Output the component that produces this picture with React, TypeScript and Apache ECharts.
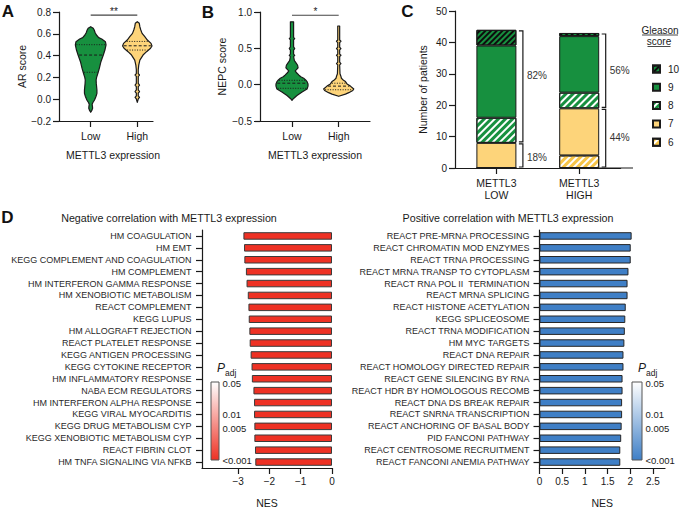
import React, { useEffect, useRef } from 'react';
import * as echarts from 'echarts';

const FONT = '"Liberation Sans", Arial, Helvetica, sans-serif';
const INK = '#1a1a1a';
const GREEN = '#17903f';
const YELLOW = '#fdd47a';
const YELLOW_STRIPE = '#f7c548';
const RED = '#ee3124';
const BLUE = '#3f7fc6';

// ---------- Panel A: AR score violins ----------
const violinGroups = ['Low', 'High'];
const arLowProfile: number[][] = [
  [0.665, 0], [0.65, 0.16], [0.635, 0.22], [0.61, 0.28], [0.589, 0.36], [0.565, 0.5],
  [0.552, 0.69], [0.528, 0.92], [0.498, 0.96], [0.451, 0.89], [0.405, 0.79], [0.344, 0.64],
  [0.283, 0.54], [0.238, 0.45], [0.2, 0.37], [0.176, 0.34], [0.145, 0.35], [0.115, 0.37],
  [0.085, 0.39], [0.054, 0.39], [0.025, 0.33], [-0.007, 0.24], [-0.03, 0.14], [-0.047, 0.09],
  [-0.065, 0.11], [-0.083, 0.12], [-0.1, 0.08], [-0.12, 0],
];
const arHighProfile: number[][] = [
  [0.711, 0], [0.696, 0.125], [0.665, 0.16], [0.635, 0.22], [0.604, 0.3], [0.573, 0.47],
  [0.543, 0.63], [0.512, 0.86], [0.488, 0.92], [0.467, 0.83], [0.436, 0.58], [0.405, 0.36],
  [0.359, 0.16], [0.313, 0.09], [0.27, 0.06], [0.235, 0.06], [0.222, 0.14], [0.209, 0.06],
  [0.145, 0.06], [0.13, 0.14], [0.115, 0.06], [0.085, 0.06], [0.07, 0.14], [0.055, 0.06],
  [0.03, 0.06], [0.016, 0.14], [0.002, 0.06], [-0.029, 0],
];
const arLowQuartiles = [0.5, 0.405, 0.247];
const arHighQuartiles = [0.53, 0.49, 0.451];
const arSignificance = [1, 2, 0.772];
const arSignificanceLabel = '**';

// ---------- Panel B: NEPC score violins ----------
const nepcLowProfile: number[][] = [
  [0.865, 0.1], [0.78, 0.1], [0.7, 0.1], [0.65, 0.1], [0.634, 0.17], [0.618, 0.1],
  [0.52, 0.1], [0.496, 0.17], [0.475, 0.1], [0.42, 0.1], [0.404, 0.17], [0.385, 0.1],
  [0.33, 0.15], [0.3, 0.25], [0.267, 0.35], [0.23, 0.38], [0.2, 0.25], [0.189, 0.2],
  [0.16, 0.3], [0.134, 0.42], [0.11, 0.55], [0.088, 0.73], [0.065, 0.85], [0.042, 0.94],
  [0.01, 1.0], [-0.02, 1.0], [-0.06, 0.94], [-0.1, 0.63], [-0.15, 0.31], [-0.19, 0.1], [-0.215, 0],
];
const nepcHighProfile: number[][] = [
  [0.807, 0.06], [0.7, 0.06], [0.615, 0.06], [0.597, 0.14], [0.58, 0.06], [0.515, 0.06],
  [0.496, 0.14], [0.478, 0.06], [0.42, 0.06], [0.404, 0.14], [0.388, 0.06], [0.31, 0.06],
  [0.29, 0.14], [0.272, 0.06], [0.15, 0.08], [0.12, 0.13], [0.088, 0.17], [0.06, 0.3],
  [0.042, 0.42], [0.01, 0.52], [-0.02, 0.73], [-0.06, 0.94], [-0.08, 0.88], [-0.11, 0.63],
  [-0.13, 0.42], [-0.16, 0],
];
const nepcLowQuartiles = [0.06, 0.02, -0.05];
const nepcHighQuartiles = [0.02, -0.02, -0.07];
const nepcSignificance = [1, 2, 0.955];
const nepcSignificanceLabel = '*';

// ---------- Panel C: Gleason score stacked bars ----------
const gleasonGroups = ['METTL3\nLOW', 'METTL3\nHIGH'];
const gleasonGrades = ['6', '7', '8', '9', '10'];
const gleason6 = [0, 4];
const gleason7 = [8, 15];
const gleason8 = [8, 5];
const gleason9 = [23, 18];
const gleason10 = [5, 1];
const bracketGroup = [0, 0, 1, 1];
const bracketFrom = [8, 0, 19, 0];
const bracketTo = [44, 8, 43, 19];
const bracketLabel = ['82%', '18%', '56%', '44%'];
const bracketLabelAt = [29.5, 3.5, 31, 9.8];

// ---------- Panel D: GSEA NES ----------
const negPathways = [
  'HM COAGULATION', 'HM EMT', 'KEGG COMPLEMENT AND COAGULATION', 'HM COMPLEMENT',
  'HM INTERFERON GAMMA RESPONSE', 'HM XENOBIOTIC METABOLISM', 'REACT COMPLEMENT', 'KEGG LUPUS',
  'HM ALLOGRAFT REJECTION', 'REACT PLATELET RESPONSE', 'KEGG ANTIGEN PROCESSING',
  'KEGG CYTOKINE RECEPTOR', 'HM INFLAMMATORY RESPONSE', 'NABA ECM REGULATORS',
  'HM INTERFERON ALPHA RESPONSE', 'KEGG VIRAL MYOCARDITIS', 'KEGG DRUG METABOLISM CYP',
  'KEGG XENOBIOTIC METABOLISM CYP', 'REACT FIBRIN CLOT', 'HM TNFA SIGNALING VIA NFKB',
];
const negNES = [
  -2.83, -2.81, -2.8, -2.75, -2.73, -2.69, -2.67, -2.66, -2.64, -2.63,
  -2.6, -2.57, -2.56, -2.51, -2.49, -2.49, -2.48, -2.48, -2.46, -2.45,
];
const posPathways = [
  'REACT PRE-MRNA PROCESSING', 'REACT CHROMATIN MOD ENZYMES', 'REACT TRNA PROCESSING',
  'REACT MRNA TRANSP TO CYTOPLASM', 'REACT RNA POL II  TERMINATION', 'REACT MRNA SPLICING',
  'REACT HISTONE ACETYLATION', 'KEGG SPLICEOSOME', 'REACT TRNA MODIFICATION', 'HM MYC TARGETS',
  'REACT DNA REPAIR', 'REACT HOMOLOGY DIRECTED REPAIR', 'REACT GENE SILENCING BY RNA',
  'REACT HDR BY HOMOLOGOUS RECOMB', 'REACT DNA DS BREAK REPAIR', 'REACT SNRNA TRANSCRIPTION',
  'REACT ANCHORING OF BASAL BODY', 'PID FANCONI PATHWAY', 'REACT CENTROSOME RECRUITMENT',
  'REACT FANCONI ANEMIA PATHWAY',
];
const posNES = [
  2.03, 2.01, 2.01, 1.96, 1.94, 1.94, 1.9, 1.89, 1.88, 1.87,
  1.85, 1.85, 1.83, 1.83, 1.82, 1.82, 1.81, 1.8, 1.78, 1.78,
];
const padjTickValues = [0.05, 0.01, 0.005, 0.001];
const padjTickLabels = ['0.05', '0.01', '0.005', '<0.001'];
const negTicks = [-3, -2, -1, 0];
const posTicks = [0, 0.5, 1, 1.5, 2, 2.5];

// ---------- helpers ----------
const VIOLIN_HALF = 0.343; // max half width in x-axis units
const minus = (s: string) => s.replace('-', '\u2212');
const lineStyle = { color: INK, width: 1.2 };
const tickText = (size = 10) => ({ fontFamily: FONT, fontSize: size, color: INK });

function interpWidth(profile: number[][], v: number) {
  for (let k = 0; k < profile.length - 1; k++) {
    const [v0, w0] = profile[k];
    const [v1, w1] = profile[k + 1];
    if (v <= v0 && v >= v1) {
      const t = v0 === v1 ? 0 : (v0 - v) / (v0 - v1);
      return w0 + (w1 - w0) * t;
    }
  }
  return 0;
}

function violinSeries(axisIndex: number, profiles: number[][][], quartiles: number[][], fills: string[]) {
  return {
    type: 'custom',
    xAxisIndex: axisIndex,
    yAxisIndex: axisIndex,
    silent: true,
    data: violinGroups.map((_, i) => [i + 1, 0]),
    renderItem: (params: any, api: any) => {
      const i = params.dataIndex;
      const x = api.value(0);
      const prof = profiles[i];
      const right = prof.map(([v, w]) => api.coord([x + w * VIOLIN_HALF, v]));
      const left = prof.slice().reverse().map(([v, w]) => api.coord([x - w * VIOLIN_HALF, v]));
      const children: any[] = [
        {
          type: 'polygon',
          shape: { points: right.concat(left) },
          style: { fill: fills[i], stroke: INK, lineWidth: 1.2, lineJoin: 'round' },
        },
      ];
      quartiles[i].forEach((q, k) => {
        const w = interpWidth(prof, q);
        const p1 = api.coord([x - w * VIOLIN_HALF, q]);
        const p2 = api.coord([x + w * VIOLIN_HALF, q]);
        children.push({
          type: 'line',
          shape: { x1: p1[0] + 1, y1: p1[1], x2: p2[0] - 1, y2: p2[1] },
          style: { stroke: INK, lineWidth: 1, lineDash: k === 1 ? [3, 2] : [1, 1.5] },
        });
      });
      return { type: 'group', children };
    },
  };
}

function significanceSeries(axisIndex: number, sig: number[], label: string) {
  return {
    type: 'custom',
    xAxisIndex: axisIndex,
    yAxisIndex: axisIndex,
    silent: true,
    data: [sig],
    renderItem: (_params: any, api: any) => {
      const a = api.coord([api.value(0), api.value(2)]);
      const b = api.coord([api.value(1), api.value(2)]);
      return {
        type: 'group',
        children: [
          { type: 'line', shape: { x1: a[0], y1: a[1], x2: b[0], y2: b[1] }, style: { stroke: '#444', lineWidth: 1.2 } },
          {
            type: 'text',
            style: {
              text: label, x: (a[0] + b[0]) / 2, y: a[1] + 1, align: 'center', verticalAlign: 'bottom',
              fontFamily: FONT, fontSize: 10, fill: INK,
            },
          },
        ],
      };
    },
  };
}

function stripes(color: string, dash: number[]) {
  return {
    symbol: 'rect',
    symbolSize: 1,
    dashArrayX: [1, 0],
    dashArrayY: dash,
    rotation: -Math.PI / 4,
    color,
  };
}

function gleasonSeries(name: string, values: number[], fill: string, decal?: any) {
  return {
    type: 'bar',
    name,
    xAxisIndex: 2,
    yAxisIndex: 2,
    stack: 'gleason',
    barWidth: 40,
    data: values,
    itemStyle: { color: fill, borderColor: INK, borderWidth: 1, decal: decal || 'none' },
    emphasis: { disabled: true },
  };
}

function buildOption() {
  const grids = [
    { left: 59, top: 12, width: 94, height: 109 },
    { left: 260, top: 12, width: 110, height: 109 },
    { left: 455, top: 11, width: 165.6, height: 157 },
    { left: 202, top: 230, width: 130, height: 238 },
    { left: 539.5, top: 230, width: 125.5, height: 238 },
  ].map((g) => ({ ...g, containLabel: false, outerBoundsMode: 'none' }));

  const catValueX = (gridIndex: number, min: number, max: number, labels: string[]) => ({
    type: 'value',
    gridIndex,
    min,
    max,
    axisLine: { show: true, onZero: false, lineStyle },
    axisTick: { show: true, length: 6, lineStyle, customValues: labels.map((_, i) => i + 1) },
    axisLabel: {
      ...tickText(10.5),
      margin: 9,
      customValues: labels.map((_, i) => i + 1),
      formatter: (v: number) => labels[Math.round(v) - 1] || '',
    },
    splitLine: { show: false },
  });

  const xAxis = [
    catValueX(0, 0.32, 2.337, violinGroups),
    catValueX(1, 0.315, 2.67, violinGroups),
    {
      type: 'category', gridIndex: 2, data: gleasonGroups,
      axisLine: { show: true, onZero: false, lineStyle },
      axisTick: { show: true, length: 6, alignWithLabel: true, lineStyle },
      axisLabel: { ...tickText(10.5), margin: 9, lineHeight: 12, interval: 0 },
      splitLine: { show: false },
    },
    {
      type: 'value', gridIndex: 3, min: -4.153, max: 0,
      axisLine: { show: true, onZero: false, lineStyle },
      axisTick: { show: true, length: 6, lineStyle, customValues: negTicks },
      axisLabel: { ...tickText(10), margin: 8, customValues: negTicks, formatter: (v: number) => minus(String(v)) },
      splitLine: { show: false },
      name: 'NES', nameLocation: 'middle', nameGap: 29,
      nameTextStyle: { fontFamily: FONT, fontSize: 10.5, color: INK },
    },
    {
      type: 'value', gridIndex: 4, min: 0, max: 2.765,
      axisLine: { show: true, onZero: false, lineStyle },
      axisTick: { show: true, length: 6, lineStyle, customValues: posTicks },
      axisLabel: { ...tickText(10), margin: 8, customValues: posTicks, formatter: (v: number) => String(v) },
      splitLine: { show: false },
      name: 'NES', nameLocation: 'middle', nameGap: 29,
      nameTextStyle: { fontFamily: FONT, fontSize: 10.5, color: INK },
    },
  ];

  const valueY = (gridIndex: number, min: number, max: number, interval: number, name: string, nameGap: number, fmt: (v: number) => string) => ({
    type: 'value',
    gridIndex,
    min,
    max,
    interval,
    axisLine: { show: true, onZero: false, lineStyle },
    axisTick: { show: true, length: 6, lineStyle },
    axisLabel: { ...tickText(10), margin: 8, formatter: fmt },
    splitLine: { show: false },
    name,
    nameLocation: 'middle',
    nameGap,
    nameTextStyle: { fontFamily: FONT, fontSize: 10.5, color: INK },
  });

  const catY = (gridIndex: number, data: string[], margin: number) => ({
    type: 'category',
    gridIndex,
    inverse: true,
    data,
    axisLine: { show: true, onZero: false, lineStyle },
    axisTick: { show: true, length: 6, alignWithLabel: true, interval: 0, lineStyle },
    axisLabel: { fontFamily: FONT, fontSize: 9, color: '#2a2a2a', margin, interval: 0 },
    splitLine: { show: false },
  });

  const yAxis = [
    valueY(0, -0.2, 0.8, 0.2, 'AR score', 31, (v) => minus(v.toFixed(1))),
    valueY(1, -0.5, 1.0, 0.5, 'NEPC score', 33, (v) => minus(v.toFixed(1))),
    valueY(2, 0, 50, 10, 'Number of patients', 27, (v) => String(v)),
    catY(3, negPathways, 10.5),
    catY(4, posPathways, 10),
  ];

  const gleasonFills = [
    gleasonSeries(gleasonGrades[0], gleason6, '#ffffff', stripes(YELLOW_STRIPE, [2.2, 2])),
    gleasonSeries(gleasonGrades[1], gleason7, YELLOW),
    gleasonSeries(gleasonGrades[2], gleason8, '#ffffff', stripes(GREEN, [2.4, 1.8])),
    gleasonSeries(gleasonGrades[3], gleason9, GREEN),
    gleasonSeries(gleasonGrades[4], gleason10, GREEN, stripes('#0d0d0d', [1.8, 1.8])),
  ];

  const bracketSeries = {
    type: 'custom',
    xAxisIndex: 2,
    yAxisIndex: 2,
    silent: true,
    data: bracketGroup.map((g, k) => [g, bracketFrom[k], bracketTo[k], bracketLabelAt[k]]),
    renderItem: (params: any, api: any) => {
      const x = api.value(0);
      const bottom = api.coord([x, api.value(1)]);
      const top = api.coord([x, api.value(2)]);
      const mid = api.coord([x, api.value(3)]);
      const bx = bottom[0] + 26.5;
      const y0 = bottom[1] - 1;
      const y1 = top[1] + 1;
      return {
        type: 'group',
        children: [
          {
            type: 'polyline',
            shape: { points: [[bx - 4, y1], [bx, y1], [bx, y0], [bx - 4, y0]] },
            style: { stroke: INK, lineWidth: 1.2, fill: 'none' },
          },
          {
            type: 'text',
            style: {
              text: bracketLabel[params.dataIndex], x: bx + 4, y: mid[1], align: 'left', verticalAlign: 'middle',
              fontFamily: FONT, fontSize: 10, fill: '#333',
            },
          },
        ],
      };
    },
  };

  const barCommon = { barWidth: 7.5, emphasis: { disabled: true }, silent: true };
  const negBars = {
    type: 'bar', name: 'Negative NES', xAxisIndex: 3, yAxisIndex: 3, data: negNES, ...barCommon,
    itemStyle: { color: RED, borderColor: '#3a3a3a', borderWidth: 1 },
  };
  const posBars = {
    type: 'bar', name: 'Positive NES', xAxisIndex: 4, yAxisIndex: 4, data: posNES, ...barCommon,
    itemStyle: { color: BLUE, borderColor: '#262626', borderWidth: 1 },
  };

  // colour bars (log-scaled Padj)
  const logSpan = Math.log10(padjTickValues[0]) - Math.log10(padjTickValues[padjTickValues.length - 1]);
  const colourBar = (x: number, w: number, color: string) => {
    const top = 382;
    const h = 78;
    const items: any[] = [
      {
        type: 'rect',
        shape: { x, y: top, width: w, height: h },
        style: {
          fill: { type: 'linear', x: 0, y: 0, x2: 0, y2: 1, colorStops: [{ offset: 0, color: '#ffffff' }, { offset: 1, color }] },
          stroke: '#555', lineWidth: 1,
        },
      },
      { type: 'text', style: { text: 'P', x: x + 6, y: 368, align: 'left', verticalAlign: 'middle', fontFamily: FONT, fontSize: 12, fontStyle: 'italic', fill: INK } },
      { type: 'text', style: { text: 'adj', x: x + 14, y: 372.5, align: 'left', verticalAlign: 'middle', fontFamily: FONT, fontSize: 8.5, fill: INK } },
    ];
    padjTickValues.forEach((v, k) => {
      const f = (Math.log10(padjTickValues[0]) - Math.log10(v)) / logSpan;
      items.push({
        type: 'text',
        style: {
          text: padjTickLabels[k], x: x + w + 3.5, y: top + 1 + f * (h - 1), align: 'left', verticalAlign: 'middle',
          fontFamily: FONT, fontSize: 9.5, fill: INK,
        },
      });
    });
    return items;
  };

  const letter = (t: string, x: number, y: number) => ({
    type: 'text',
    style: { text: t, x, y, align: 'center', verticalAlign: 'middle', fontFamily: FONT, fontSize: 17, fontWeight: 'bold', fill: '#111' },
  });
  const title = (t: string, x: number, y: number, size = 10.5) => ({
    type: 'text',
    style: { text: t, x, y, align: 'center', verticalAlign: 'middle', fontFamily: FONT, fontSize: size, fill: INK },
  });

  const graphic = [
    letter('A', 8, 11.5),
    letter('B', 208, 12.5),
    letter('C', 407.5, 11.5),
    letter('D', 7.5, 217),
    title('METTL3 expression', 113, 155),
    title('METTL3 expression', 315, 155),
    // axis line of panel C continues past the last category band
    { type: 'line', shape: { x1: 595, y1: 168, x2: 633, y2: 168 }, style: { stroke: INK, lineWidth: 1.2 } },
    title('Gleason', 660, 30, 10),
    title('score', 659, 41.5, 10),
    { type: 'line', shape: { x1: 642, y1: 35, x2: 678, y2: 35 }, style: { stroke: INK, lineWidth: 0.8 } },
    { type: 'line', shape: { x1: 647.5, y1: 46.5, x2: 670.5, y2: 46.5 }, style: { stroke: INK, lineWidth: 0.8 } },
    title('Negative correlation with METTL3 expression', 169, 218, 10.7),
    title('Positive correlation with METTL3 expression', 508, 218, 10.7),
    ...colourBar(211, 8, RED),
    ...colourBar(632, 10, BLUE),
  ];

  return {
    animation: false,
    backgroundColor: '#ffffff',
    textStyle: { fontFamily: FONT },
    grid: grids,
    xAxis,
    yAxis,
    legend: {
      data: ['10', '9', '8', '7', '6'],
      orient: 'vertical',
      left: 647,
      top: 58,
      itemWidth: 7,
      itemHeight: 7,
      itemGap: 6.3,
      icon: 'rect',
      selectedMode: false,
      textStyle: { fontFamily: FONT, fontSize: 10, color: INK, lineHeight: 12, padding: [0, 0, 0, 3] },
    },
    graphic,
    series: [
      violinSeries(0, [arLowProfile, arHighProfile], [arLowQuartiles, arHighQuartiles], [GREEN, YELLOW]),
      significanceSeries(0, arSignificance, arSignificanceLabel),
      violinSeries(1, [nepcLowProfile, nepcHighProfile], [nepcLowQuartiles, nepcHighQuartiles], [GREEN, YELLOW]),
      significanceSeries(1, nepcSignificance, nepcSignificanceLabel),
      ...gleasonFills,
      bracketSeries,
      negBars,
      posBars,
    ],
  };
}

export default function App() {
  const ref = useRef<HTMLDivElement>(null);
  useEffect(() => {
    if (!ref.current) return;
    const chart = echarts.init(ref.current, null, { renderer: 'svg' });
    chart.setOption(buildOption() as any);
    return () => chart.dispose();
  }, []);
  return (
    <div
      ref={ref}
      style={{ position: 'fixed', left: 0, top: 0, width: 680, height: 510, background: '#fff' }}
    />
  );
}
